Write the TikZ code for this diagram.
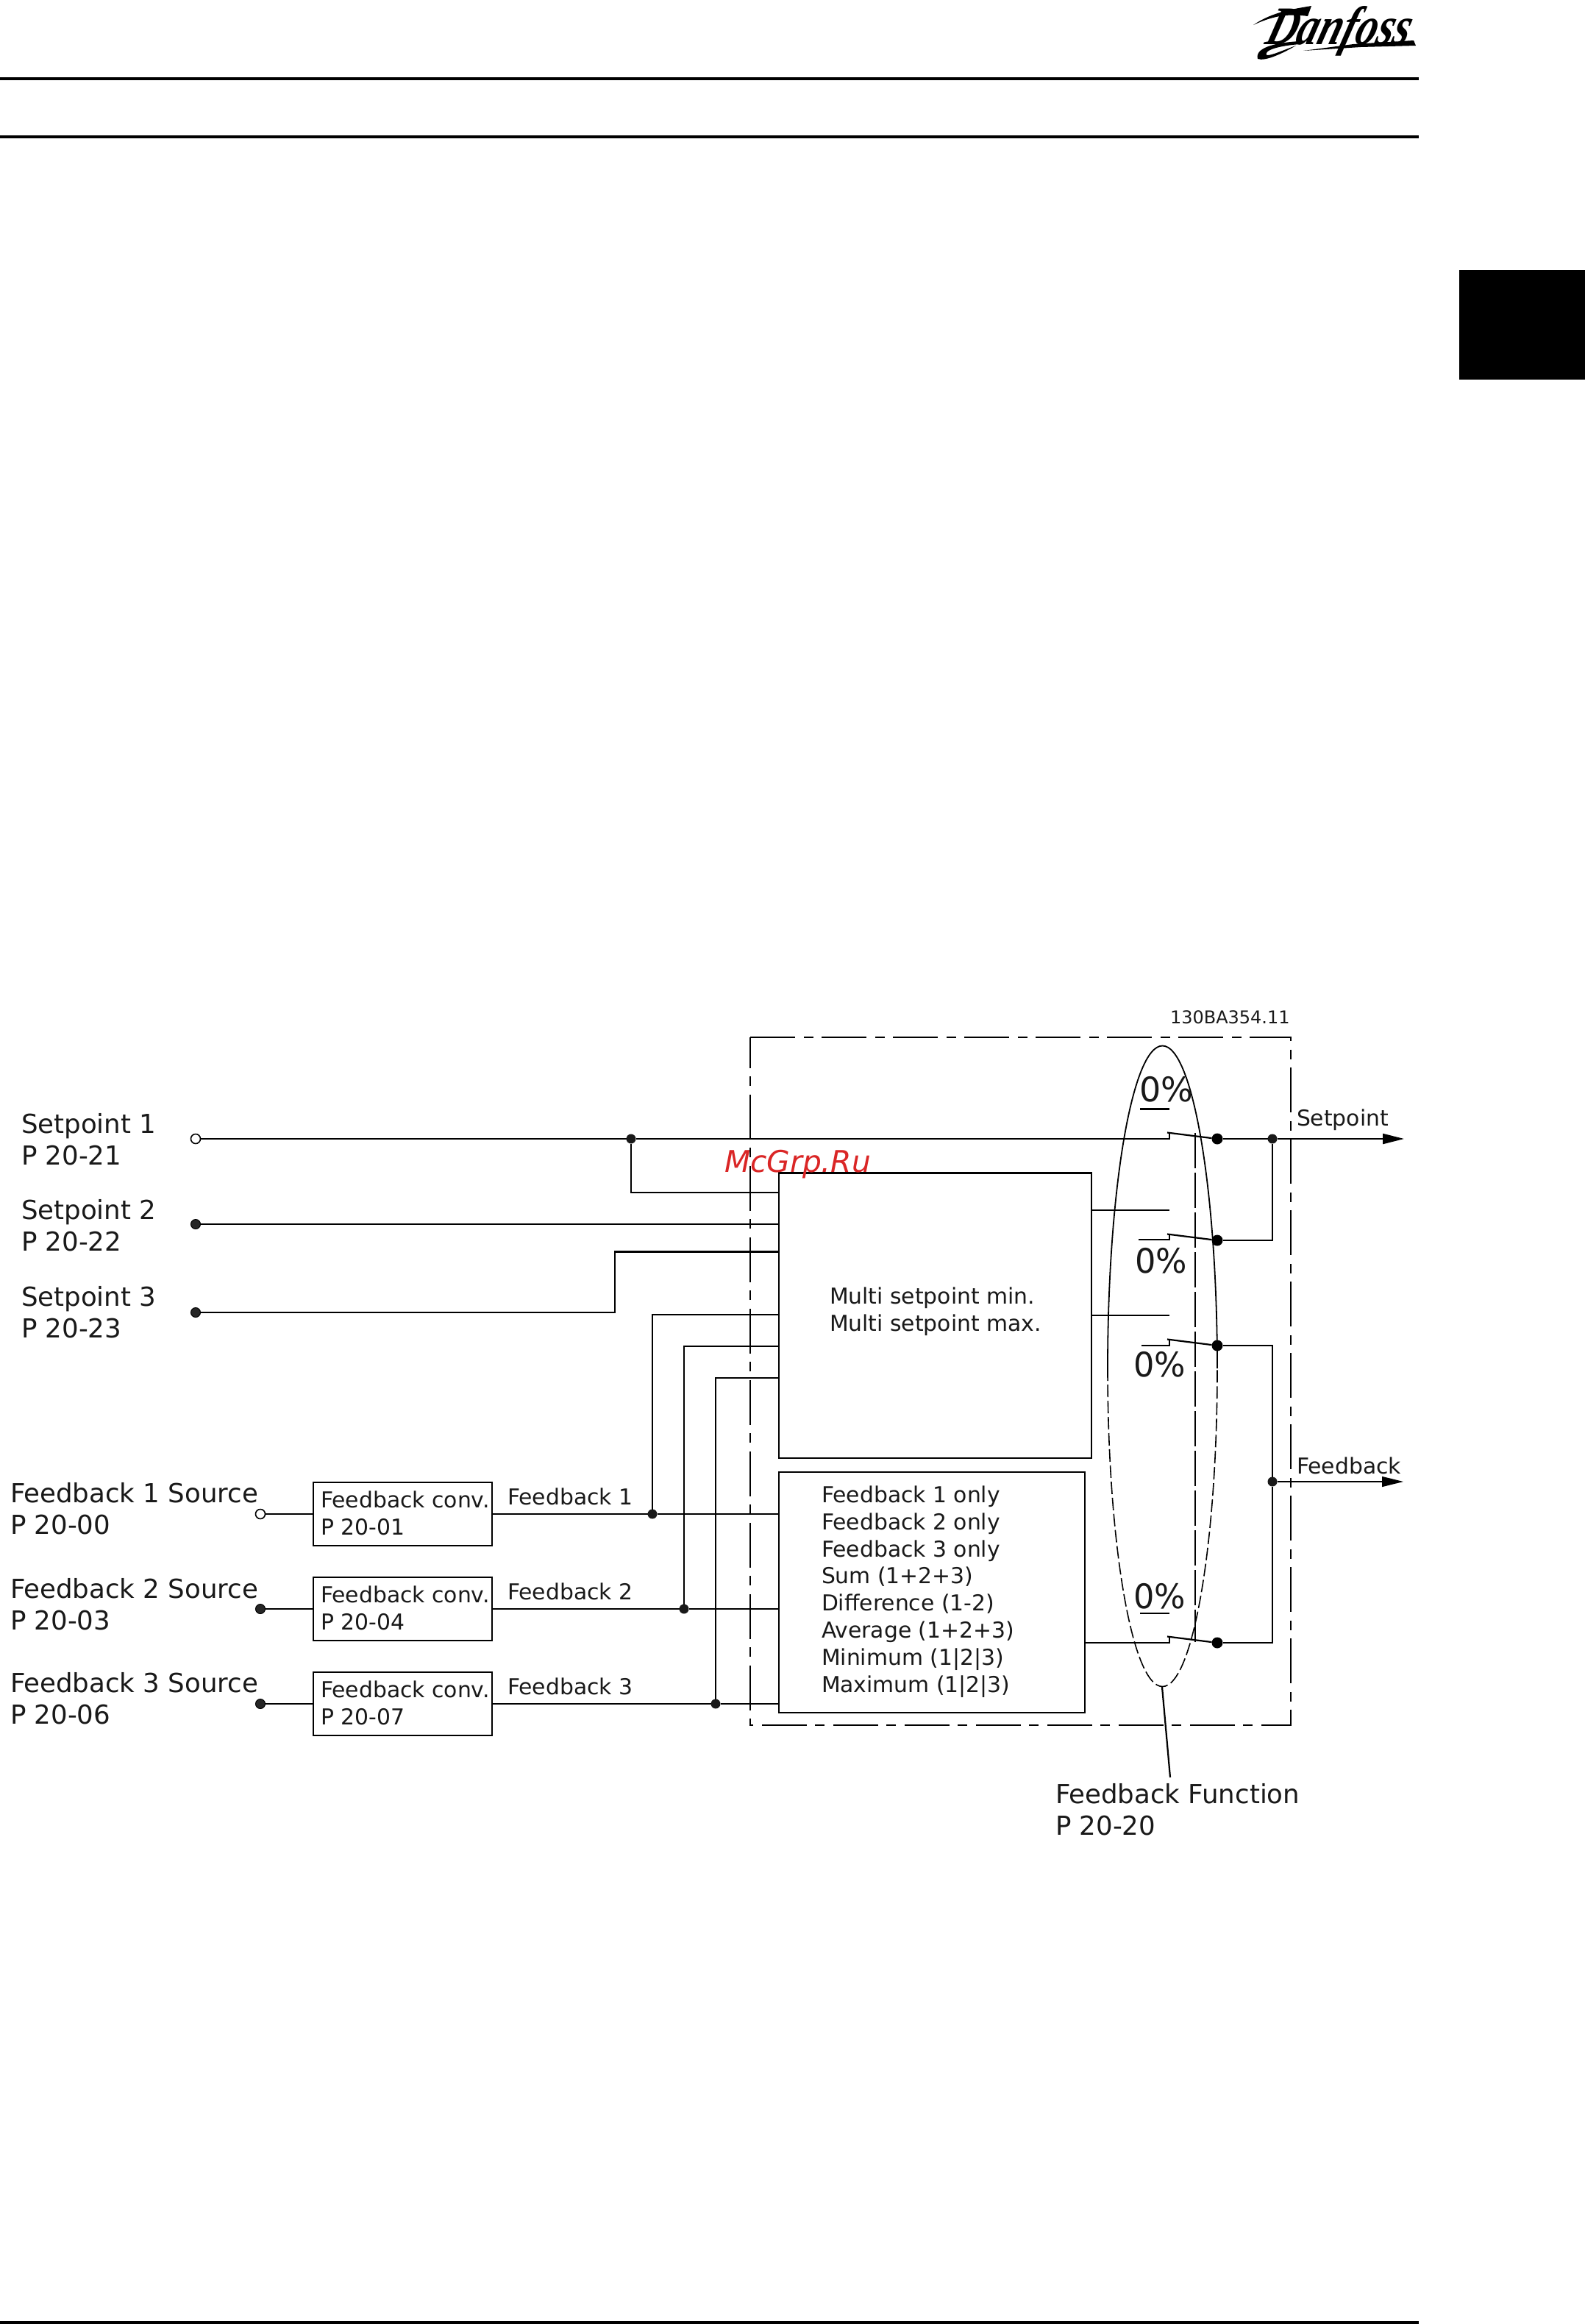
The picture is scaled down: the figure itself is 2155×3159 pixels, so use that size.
\documentclass[tikz,border=0pt]{standalone}
\usepackage{fontspec}
\setmainfont{DejaVu Sans}
\newfontfamily\logofont{Liberation Serif}
\usetikzlibrary{arrows.meta}
\definecolor{inkc}{gray}{0.1}
\definecolor{markred}{RGB}{218,38,38}
\tikzset{
  wire/.style={line width=1.1pt,draw=black},
  thinwire/.style={line width=.7pt,draw=black},
  txt/.style={inner sep=0pt,outer sep=0pt,text=inkc,align=left,anchor=base west},
  big/.style={txt,font=\fontsize{17.8}{21.5}\selectfont},
  small/.style={txt,font=\fontsize{14.9}{18.4}\selectfont},
  pct/.style={txt,font=\fontsize{23}{23}\selectfont},
  bx/.style={draw=black,line width=1.1pt,anchor=north west,inner sep=0pt,outer sep=0pt},
  dotb/.style={circle,fill=black,inner sep=0pt,outer sep=0pt,minimum size=7.5pt},
  dots/.style={circle,fill=black!90,inner sep=0pt,outer sep=0pt,minimum size=6.5pt},
  term/.style={circle,fill=black!85,draw=black,line width=.5pt,inner sep=0pt,outer sep=0pt,minimum size=6.5pt},
  termo/.style={term,fill=white,line width=.8pt},
  outerdash/.style={line width=1.1pt,dash pattern=on 30.5pt off 6pt on 6.5pt off 5.5pt},
  elldash/.style={line width=.8pt,dash pattern=on 8.5pt off 2.5pt},
  middash/.style={line width=.8pt,dash pattern=on 24pt off 3pt},
  arrowout/.style={-{Triangle[length=14.5pt,width=7pt]}},
}
\begin{document}
\begin{tikzpicture}[x=.5pt,y=-.5pt]
\useasboundingbox (0,0) rectangle (2155,3159);
% page furniture
\fill[black] (0,105) rectangle (1929,109);
\fill[black] (0,184) rectangle (1929,188);
\fill[black] (0,3155) rectangle (1929,3159);
\fill[black] (1984,367) rectangle (2155,516);
% logo
\node[inner sep=0pt,anchor=base west,text=black,xslant=.3,transform shape] (logo) at (1718,60) {\scalebox{.87}[1.12]{\logofont\fontsize{33}{33}\selectfont\itshape\bfseries Danfoss}};
\fill[black] (1704,34) .. controls (1730,16) and (1760,12) .. (1783,8) -- (1778,22) .. controls (1750,18) and (1730,22) .. (1704,34) -- cycle;
\fill[black] (1772,69) -- (1840,60) -- (1922,55) -- (1925,62) -- (1850,64) -- cycle;
\fill[black] (1768,56) .. controls (1730,58) and (1706,66) .. (1710,80) .. controls (1720,84) and (1745,72) .. (1762,62) .. controls (1745,68) and (1728,76) .. (1722,75) .. controls (1718,68) and (1740,62) .. (1768,60) -- cycle;

% outer dash-dot box
\coordinate (oa) at (1020,1410);
\coordinate (ob) at (1755,1410);
\coordinate (oc) at (1755,2345);
\coordinate (od) at (1020,2345);
\draw[outerdash] (oa) -- (ob) -- (oc) -- (od) -- cycle;

% main boxes
\node[bx,minimum width=212.5pt,minimum height=193.75pt] (multi) at (1059,1594.5) {};
\node[bx,minimum width=208pt,minimum height=163.5pt] (fbox) at (1059,2001) {};
\node[bx,minimum width=121.5pt,minimum height=43pt] (conv1) at (426,2015) {};
\node[bx,minimum width=121.5pt,minimum height=43pt] (conv2) at (426,2144) {};
\node[bx,minimum width=121.5pt,minimum height=43pt] (conv3) at (426,2273) {};

% terminals
\node[termo] (s1) at (266,1548) {};
\node[term] (s2) at (266,1664) {};
\node[term] (s3) at (266,1784) {};
\node[termo] (f1) at (354,2058) {};
\node[term] (f2) at (354,2187) {};
\node[term] (f3) at (354,2316) {};

% junctions
\node[dots] (js) at (858,1548) {};
\node[dots] (j1) at (887,2058) {};
\node[dots] (j2) at (930,2187) {};
\node[dots] (j3) at (973,2316) {};
\node[dotb] (c1) at (1655,1548) {};
\node[dotb] (c2) at (1655,1686) {};
\node[dotb] (c3) at (1655,1829) {};
\node[dotb] (c4) at (1655,2233) {};
\node[dots] (jo) at (1730,1548) {};
\node[dots] (jf) at (1730,2014) {};

% named corners and ports
\coordinate (pa) at (1059,1621);
\coordinate (pb) at (1059,1664);
\coordinate (pc) at (1059,1701.5);
\coordinate (pd) at (1059,1787);
\coordinate (pe) at (1059,1830);
\coordinate (pf) at (1059,1873);
\coordinate (qa) at (1059,2058);
\coordinate (qb) at (1059,2187);
\coordinate (qc) at (1059,2316);
\coordinate (u3a) at (836,1784);
\coordinate (u3b) at (836,1701.5);
\coordinate (sw1) at (1590,1548);
\coordinate (sw1t) at (1590,1541);
\coordinate (sw2) at (1590,1685);
\coordinate (sw2l) at (1548,1685);
\coordinate (sw2t) at (1590,1678);
\coordinate (sw3) at (1590,1829);
\coordinate (sw3l) at (1552,1829);
\coordinate (sw3t) at (1590,1821);
\coordinate (sw4) at (1590,2233);
\coordinate (sw4t) at (1590,2225);
\coordinate (tp1) at (1484,1645);
\coordinate (tp1e) at (1590,1645);
\coordinate (tp2) at (1484,1788);
\coordinate (tp2e) at (1590,1788);
\coordinate (fo) at (1475,2233);
\coordinate (arm1) at (1587,1539.5);
\coordinate (arm2) at (1587,1677.5);
\coordinate (arm3) at (1587,1820.5);
\coordinate (arm4) at (1587,2224.5);
\coordinate (out1) at (1909,1548);
\coordinate (out2) at (1908,2014);
\coordinate (r2) at (1730,1686);
\coordinate (r3) at (1730,1829);
\coordinate (r4) at (1730,2233);

% input wiring
\draw[wire] (s1) -- (js) -- (sw1) -- (sw1t);
\draw[wire] (js) |- (pa);
\draw[wire] (s2) -- (pb);
\draw[wire] (s3) -- (u3a) -- (u3b) -- (pc);
\draw[wire] (f1) -- (conv1.west |- f1);
\draw[wire] (f2) -- (conv2.west |- f2);
\draw[wire] (f3) -- (conv3.west |- f3);
\draw[wire] (conv1.east |- f1) -- (j1) -- (qa);
\draw[wire] (conv2.east |- f2) -- (j2) -- (qb);
\draw[wire] (conv3.east |- f3) -- (j3) -- (qc);
\draw[thinwire] (j1) |- (pd);
\draw[wire] (j2) |- (pe);
\draw[wire] (j3) |- (pf);

% switches
\draw[wire] (arm1) -- (c1);
\draw[wire] (arm2) -- (c2);
\draw[wire] (arm3) -- (c3);
\draw[wire] (arm4) -- (c4);
\draw[wire] (sw2l) -- (sw2) -- (sw2t);
\draw[wire] (sw3l) -- (sw3) -- (sw3t);
\draw[wire] (fo) -- (sw4) -- (sw4t);
\draw[wire] (tp1) -- (tp1e);
\draw[wire] (tp2) -- (tp2e);

% output wiring
\draw[wire] (c1) -- (jo);
\draw[wire] (c2) -- (r2) -- (jo);
\draw[wire] (c3) -- (r3) -- (jf) -- (r4) -- (c4);
\draw[wire,arrowout] (jo) -- (out1);
\draw[thinwire,arrowout] (jf) -- (out2);

% selector ellipse and dashed link
\draw[line width=.9pt] (1506,1860) arc[start angle=180,end angle=360,x radius=74.5,y radius=438.5];
\draw[elldash] (1506,1860) arc[start angle=180,end angle=0,x radius=74.5,y radius=432.5];
\coordinate (da) at (1625,1540);
\coordinate (db) at (1625,2232);
\draw[middash] (da) -- (db);
\coordinate (la) at (1580,2293);
\coordinate (lb) at (1591,2416);
\draw[wire] (la) -- (lb);

% percent marks
\coordinate (ua) at (1550,1507.5);
\coordinate (ub) at (1590,1507.5);
\draw[wire] (ua) -- (ub);
\coordinate (uc) at (1550,2193);
\coordinate (ud) at (1590,2193);
\draw[wire] (uc) -- (ud);
\node[pct] (p1) at (1549,1497) {\scalebox{1}[1]{0\%}};
\node[pct] (p2) at (1543,1730) {\scalebox{.97}[1]{0\%}};
\node[pct] (p3) at (1541,1871) {\scalebox{.97}[1]{0\%}};
\node[pct] (p4) at (1541,2186) {\scalebox{.97}[1]{0\%}};

% labels
\node[big] (t1) at (29,1583) {Setpoint 1\\P 20-21};
\node[big] (t2) at (29,1700) {Setpoint 2\\P 20-22};
\node[big] (t3) at (29,1818) {Setpoint 3\\P 20-23};
\node[big] (t4) at (14,2085) {Feedback 1 Source\\P 20-00};
\node[big] (t5) at (14,2215.5) {Feedback 2 Source\\P 20-03};
\node[big] (t6) at (14,2343) {Feedback 3 Source\\P 20-06};
\node[small] (n1) at (436,2086.7) {Feedback conv.\\P 20-01};
\node[small] (n2) at (436,2215.7) {Feedback conv.\\P 20-04};
\node[small] (n3) at (436,2344.7) {Feedback conv.\\P 20-07};
\node[small] (n4) at (690,2045.5) {Feedback 1};
\node[small] (n5) at (690,2174.5) {Feedback 2};
\node[small] (n6) at (690,2303) {Feedback 3};
\node[small] (ms) at (1128,1809) {Multi setpoint min.\\Multi setpoint max.};
\node[small] (fl) at (1117,2300) {Feedback 1 only\\Feedback 2 only\\Feedback 3 only\\Sum (1+2+3)\\Difference (1-2)\\Average (1+2+3)\\Minimum (1|2|3)\\Maximum (1|2|3)};
\node[small] (so) at (1763,1530) {Setpoint};
\node[small] (fo2) at (1763,2003) {Feedback};
\node[txt,font=\fontsize{12}{12}\selectfont] (code) at (1591,1391) {130BA354.11};
\node[big] (ff) at (1435,2494) {Feedback Function\\P 20-20};
\node[txt,text=markred,font=\fontsize{20.4}{20.4}\selectfont\itshape] (mark) at (985,1593) {McGrp.Ru};
\end{tikzpicture}
\end{document}
